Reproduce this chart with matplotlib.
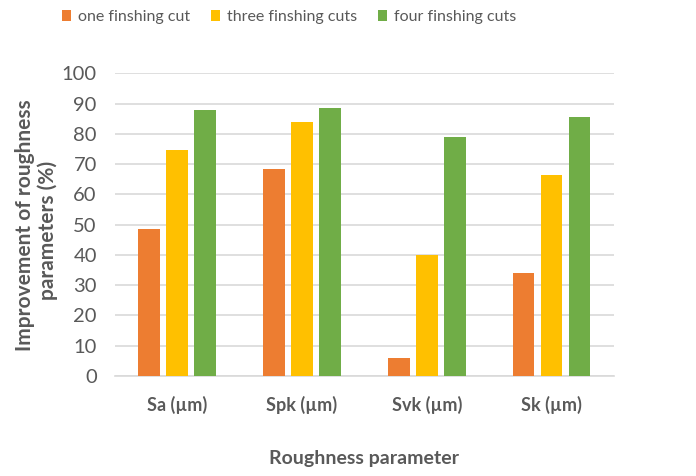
import numpy as np
from matplotlib import pyplot as plt

categories = ["Sa (µm)", "Spk (µm)", "Svk (µm)", "Sk (µm)"]
series_names = ["one finshing cut", "three finshing cuts", "four finshing cuts"]
one_cut = [48.5, 68.4, 5.8, 33.9]
three_cuts = [74.6, 83.9, 40.0, 66.5]
four_cuts = [87.8, 88.5, 79.0, 85.5]
colors = ["#ED7D31", "#FFC000", "#70AD47"]

plt.rcParams['font.family'] = ['Lato', 'DejaVu Sans']
text_gray = "#595959"

fig = plt.figure(figsize=(6.96, 4.76), dpi=100)
ax = fig.add_axes([0.165, 0.21, 0.717, 0.636])

x = np.arange(len(categories))
width = 0.176
step = 0.2245
for i, (vals, name) in enumerate(zip([one_cut, three_cuts, four_cuts], series_names)):
    ax.bar(x + (i - 1) * step, vals, width, color=colors[i], label=name, zorder=3)

ax.set_xlim(-0.5, len(categories) - 0.5)
ax.set_ylim(0, 100)
ax.set_yticks(np.arange(0, 101, 10))
ax.set_xticks(x)
ax.set_xticklabels(categories, fontsize=13, fontweight="bold", color=text_gray)
ax.tick_params(axis="y", labelsize=14.5, colors=text_gray, length=0, pad=13)
ax.tick_params(axis="x", length=0, pad=14)
ax.grid(axis="y", color="#D9D9D9", linewidth=1.2, zorder=0)
for side in ["top", "right", "left"]:
    ax.spines[side].set_visible(False)
ax.spines["bottom"].set_color("#D9D9D9")
ax.spines["bottom"].set_linewidth(1.2)

# y label: two centred lines
ylabel_lines = ["Improvement of roughness", "parameters (%)"]
for line, (px, py) in zip(ylabel_lines, [(25, 225), (48, 230)]):
    fig.text(px / 696, 1 - py / 476, line, fontsize=15, fontweight="bold",
             color=text_gray, rotation=90, ha="center", va="center")
fig.text(0.523, 0.036, "Roughness parameter", fontsize=14, fontweight="bold",
         color=text_gray, ha="center", va="center")

fig.legend(loc="center", bbox_to_anchor=(0.415, 0.964), ncol=3, frameon=False,
           fontsize=11.5, handlelength=0.6, handleheight=0.6, handletextpad=0.4,
           columnspacing=1.3, labelcolor=text_gray)

plt.savefig("out.png", dpi=100)
